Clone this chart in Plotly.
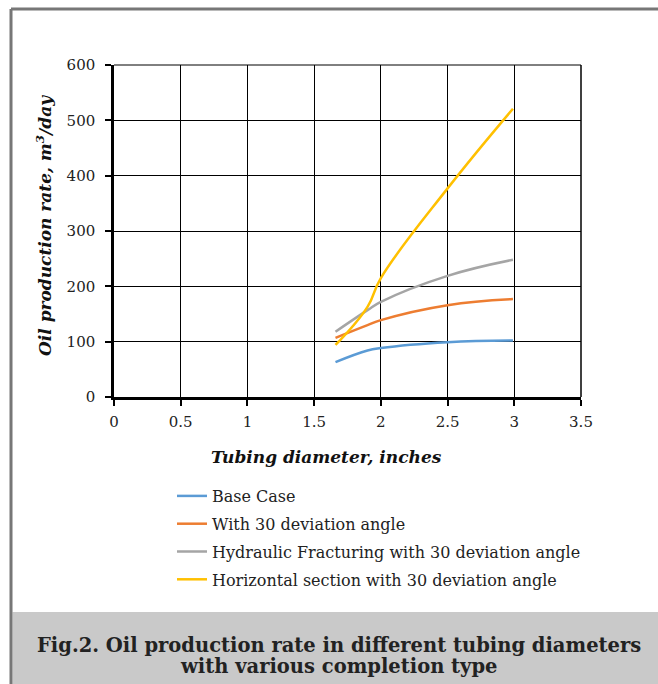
import plotly.graph_objects as go

# Data
tubing_diameter = [1.66, 1.9, 2.0, 2.5, 2.99]
base_case = [63, 84, 88.5, 99, 102]
with_30_deviation = [107, 130, 139, 166, 177]
hydraulic_fracturing_30 = [118, 157, 172, 219, 248]
horizontal_section_30 = [94, 163, 215, 377, 521]

series_names = [
    "Base Case",
    "With 30 deviation angle",
    "Hydraulic Fracturing with 30 deviation angle",
    "Horizontal section with 30 deviation angle",
]
series_values = [base_case, with_30_deviation, hydraulic_fracturing_30, horizontal_section_30]
series_colors = ["#5B9BD5", "#ED7D31", "#A5A5A5", "#FFC000"]

x_ticks = [0, 0.5, 1, 1.5, 2, 2.5, 3, 3.5]
x_tick_labels = ["0", "0.5", "1", "1.5", "2", "2.5", "3", "3.5"]
y_ticks = [0, 100, 200, 300, 400, 500, 600]

x_title = "<b><i>Tubing diameter, inches</i></b>"
y_title = "<b><i>Oil production rate, m<sup>3</sup>/day</i></b>"
caption_lines = [
    "<b>Fig.2. Oil production rate in different tubing diameters</b>",
    "<b>with various completion type</b>",
]

# Body margin is removed by the post script, so screen pixels = figure pixels
W, H = 658, 684
L, R, T, B = 114, 581, 65, 397
pw, ph = R - L, B - T

def px_x(p):
    return (p - L) / pw

def px_y(p):
    return (B - p) / ph

SERIF = "DejaVu Serif"

fig = go.Figure()
for i, (name, vals, col) in enumerate(zip(series_names, series_values, series_colors)):
    fig.add_trace(go.Scatter(
        x=tubing_diameter, y=vals, name=name, mode="lines",
        line=dict(color=col, width=2.5, shape="spline", smoothing=1.2),
        legendgroup=f"g{i}",
    ))

fig.update_layout(
    width=W, height=H,
    margin=dict(l=L, r=W - R, t=T, b=H - B),
    paper_bgcolor="white", plot_bgcolor="white",
    font=dict(family=SERIF, size=15, color="#222"),
    showlegend=True,
    legend=dict(
        x=px_x(172), y=px_y(479), xanchor="left", yanchor="top",
        font=dict(family=SERIF, size=16, color="#222"),
        bgcolor="rgba(0,0,0,0)", tracegroupgap=4, traceorder="grouped",
    ),
    xaxis=dict(
        range=[0, 3.5], tickvals=x_ticks, ticktext=x_tick_labels,
        showgrid=True, gridcolor="black", gridwidth=1,
        showline=True, linecolor="black", linewidth=2.5,
        ticks="outside", ticklen=6, tickwidth=2, tickcolor="black",
        ticklabelstandoff=3,
        zeroline=False, fixedrange=True,
        tickfont=dict(family=SERIF, size=15, color="#222"),
    ),
    yaxis=dict(
        range=[0, 600], tickvals=y_ticks,
        showgrid=True, gridcolor="black", gridwidth=1,
        showline=True, linecolor="black", linewidth=2.5,
        ticks="outside", ticklen=6, tickwidth=2, tickcolor="black",
        ticklabelstandoff=7,
        zeroline=False, fixedrange=True,
        tickfont=dict(family=SERIF, size=15, color="#222"),
    ),
)

# Axis titles
fig.add_annotation(xref="paper", yref="paper", x=px_x(326), y=px_y(457),
                   text=x_title, showarrow=False,
                   font=dict(family=SERIF, size=17, color="#111"),
                   xanchor="center", yanchor="middle")
fig.add_annotation(xref="paper", yref="paper", x=px_x(44), y=px_y(226),
                   text=y_title, showarrow=False, textangle=-90,
                   font=dict(family=SERIF, size=17, color="#111"),
                   xanchor="center", yanchor="middle")

# Top and right frame of plot area
fig.add_shape(type="line", xref="paper", yref="paper", x0=0, x1=1, y0=1, y1=1,
              line=dict(color="black", width=1), layer="above")
fig.add_shape(type="line", xref="paper", yref="paper", x0=1, x1=1, y0=0, y1=1,
              line=dict(color="black", width=1.5), layer="above")

# Outer figure border (top and left)
fig.add_shape(type="line", xref="paper", yref="paper",
              x0=px_x(11), x1=px_x(670), y0=px_y(9), y1=px_y(9),
              line=dict(color="#777777", width=3))
fig.add_shape(type="line", xref="paper", yref="paper",
              x0=px_x(11), x1=px_x(11), y0=px_y(9), y1=px_y(700),
              line=dict(color="#777777", width=3))

# Caption band
fig.add_shape(type="rect", xref="paper", yref="paper",
              x0=px_x(12.5), x1=px_x(670), y0=px_y(612), y1=px_y(700),
              line=dict(width=0), fillcolor="#C9C9C9", layer="below")
for line_text, yy in zip(caption_lines, [645, 666]):
    fig.add_annotation(
        xref="paper", yref="paper", x=px_x(339), y=px_y(yy),
        text=line_text, showarrow=False,
        font=dict(family=SERIF, size=19.5, color="#222"),
        xanchor="center", yanchor="middle",
    )

fig.write_html(
    "out.html",
    config={"displayModeBar": False},
    post_script=(
        "document.body.style.margin='0';"
        "document.body.style.overflow='hidden';"
        "document.documentElement.style.overflow='hidden';"
    ),
)
